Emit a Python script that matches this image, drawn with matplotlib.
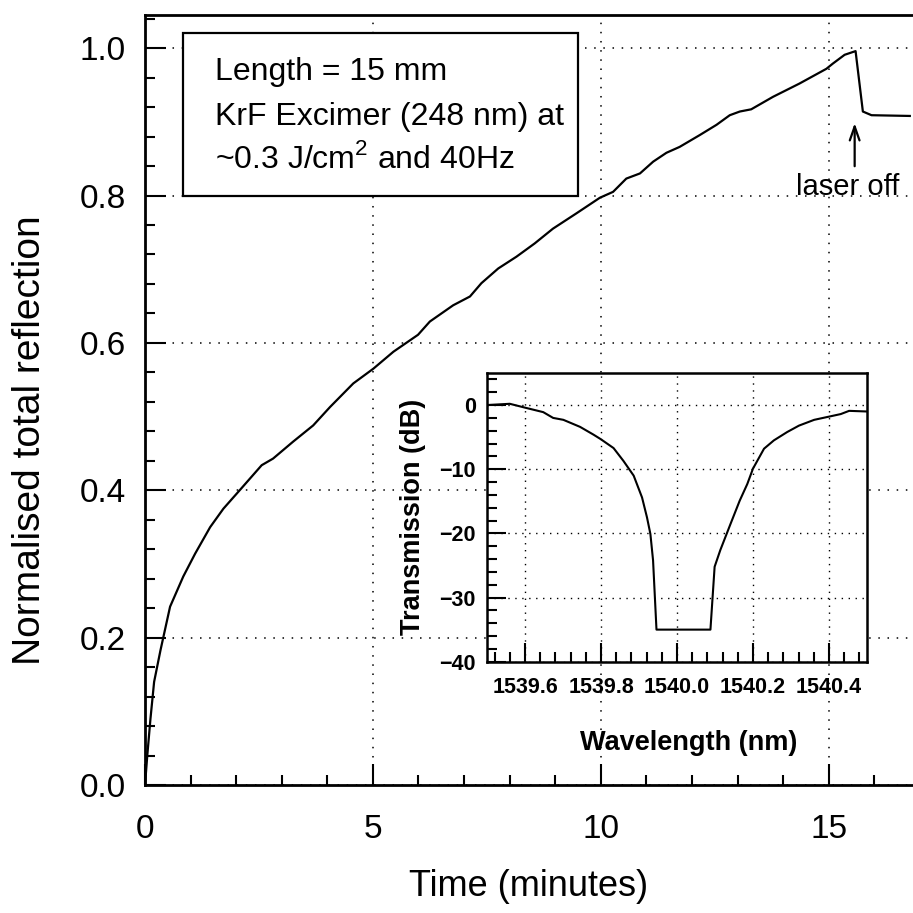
import numpy as np
import matplotlib
matplotlib.use("Agg")
import matplotlib.pyplot as plt
from matplotlib.ticker import MultipleLocator, FormatStrFormatter
from matplotlib import font_manager

plt.rcParams['font.family'] = ['Liberation Sans', 'DejaVu Sans']
plt.rcParams['mathtext.fontset'] = 'custom'
plt.rcParams['mathtext.rm'] = 'Liberation Sans'

names = set(f.name for f in font_manager.fontManager.ttflist)
narrow = 'Liberation Sans Narrow' if 'Liberation Sans Narrow' in names else 'Liberation Sans'

# main curve: time (minutes) vs normalised total reflection
time_min = [0.0, 0.05, 0.12, 0.2, 0.34, 0.55, 0.84, 1.10, 1.43, 1.72, 2.12, 2.56,
            2.81, 3.25, 3.69, 4.06, 4.57, 5.01, 5.45, 5.99, 6.25, 6.76, 7.13, 7.38,
            7.75, 8.15, 8.55, 8.95, 9.47, 9.98, 10.27, 10.56, 10.86, 11.15, 11.44,
            11.73, 12.17, 12.54, 12.83, 13.05, 13.30, 13.78, 14.36, 14.95, 15.09,
            15.35, 15.59, 15.75, 15.94, 16.78]
reflection = [0.0, 0.04, 0.09, 0.14, 0.183, 0.242, 0.283, 0.314, 0.350, 0.375, 0.403,
              0.434, 0.443, 0.466, 0.488, 0.513, 0.545, 0.565, 0.588, 0.611, 0.629,
              0.651, 0.663, 0.681, 0.701, 0.717, 0.735, 0.755, 0.776, 0.797, 0.805,
              0.823, 0.830, 0.846, 0.858, 0.866, 0.882, 0.896, 0.909, 0.914, 0.917,
              0.934, 0.952, 0.972, 0.979, 0.991, 0.996, 0.914, 0.909, 0.908]

# inset: transmission spectrum
wavelength = [1539.50, 1539.56, 1539.60, 1539.648, 1539.674, 1539.701, 1539.745,
              1539.780, 1539.799, 1539.833, 1539.859, 1539.886, 1539.908, 1539.921,
              1539.930, 1539.937, 1539.946, 1540.088, 1540.099, 1540.114, 1540.141,
              1540.165, 1540.185, 1540.200, 1540.229, 1540.255, 1540.290, 1540.321,
              1540.361, 1540.400, 1540.431, 1540.453, 1540.50]
transmission = [0.0, 0.2, -0.4, -1.1, -2.0, -2.3, -3.4, -4.6, -5.3, -6.7, -8.7, -11.0,
                -14.4, -17.5, -20.1, -24.2, -35.0, -35.0, -25.2, -22.6, -18.5, -14.9,
                -12.3, -9.9, -6.8, -5.5, -4.2, -3.2, -2.3, -1.8, -1.4, -0.9, -1.0]

inset_xticks = [1539.6, 1539.8, 1540.0, 1540.2, 1540.4]

fig = plt.figure(figsize=(9.13, 9.13), dpi=100)
W = 913.0
ax = fig.add_axes([145 / W, 128 / W, (913 - 145) / W, (785 - 15) / W])

ax.plot(time_min, reflection, color='black', lw=1.6, zorder=3)
ax.set_xlim(0, 16.85)
ax.set_ylim(0, 1.045)
ax.xaxis.set_major_locator(MultipleLocator(5))
ax.xaxis.set_minor_locator(MultipleLocator(1))
ax.yaxis.set_major_locator(MultipleLocator(0.2))
ax.yaxis.set_minor_locator(MultipleLocator(0.04))
ax.yaxis.set_major_formatter(FormatStrFormatter('%.1f'))
ax.tick_params(which='both', direction='in', top=False, right=False, width=1.5)
ax.tick_params(which='major', length=15, labelsize=24, pad=21)
ax.tick_params(axis='y', which='major', pad=14)
ax.tick_params(which='minor', length=7)
ax.grid(True, which='major', color='black', linestyle=(0, (1, 5)), lw=1.1)
ax.spines['right'].set_visible(False)
for s in ['left', 'bottom', 'top']:
    ax.spines[s].set_linewidth(2.0)
fig.text(529 / W, 1 - 886 / W, 'Time (minutes)', fontsize=26,
         ha='center', va='center')
fig.text(30 / W, 1 - 440 / W, 'Normalised total reflection', fontsize=28,
         ha='center', va='center', rotation=90)

# parameter box
rect = plt.Rectangle((0.83, 0.80), 8.67, 0.22, facecolor='white', edgecolor='black',
                     lw=1.6, zorder=4)
ax.add_patch(rect)
ax.text(1.54, 0.967, 'Length = 15 mm', fontsize=23, va='center', zorder=5)
ax.text(1.54, 0.906, 'KrF Excimer (248 nm) at', fontsize=23, va='center', zorder=5)
ax.text(1.54, 0.850, '~0.3 J/cm$^2$ and 40Hz', fontsize=23, va='center', zorder=5)

# laser off annotation
ax.annotate('', xy=(15.57, 0.902), xytext=(15.57, 0.836),
            arrowprops=dict(arrowstyle='->,head_length=1.0,head_width=0.35',
                            color='black', lw=1.6))
ax.text(15.42, 0.812, 'laser off', fontsize=21, ha='center', va='center',
        zorder=5)

# inset
ins = fig.add_axes([487 / W, (913 - 661.7) / W, 380 / W, (661.7 - 373) / W])
ins.set_facecolor('white')
ins.plot(wavelength, transmission, color='black', lw=1.5)
ins.set_xlim(1539.5, 1540.5)
ins.set_ylim(-40, 5)
ins.xaxis.set_minor_locator(MultipleLocator(0.04))
ins.yaxis.set_major_locator(MultipleLocator(10))
ins.yaxis.set_minor_locator(MultipleLocator(2))
ins.set_xticks(inset_xticks)
ins.xaxis.set_major_formatter(FormatStrFormatter('%.1f'))
ins.tick_params(which='both', direction='in', top=False, right=False, width=1.5)
ins.tick_params(which='major', length=14, pad=8)
ins.tick_params(axis='x', which='major', pad=11)
ins.tick_params(which='minor', length=7)
for lab in ins.get_xticklabels() + ins.get_yticklabels():
    lab.set_fontsize(15.5)
    lab.set_fontweight('bold')
    lab.set_family(narrow)
ins.grid(True, which='major', color='black', linestyle=(0, (1, 4)), lw=1.0)
for s in ins.spines.values():
    s.set_linewidth(1.8)
ins.set_xlabel('Wavelength (nm)', fontsize=19.5, fontweight='bold', family=narrow,
               labelpad=22)
ins.xaxis.set_label_coords(0.53, -0.235)
ins.set_ylabel('Transmission (dB)', fontsize=19.5, fontweight='bold', family=narrow,
               labelpad=10)

fig.savefig('out.png', dpi=100)
